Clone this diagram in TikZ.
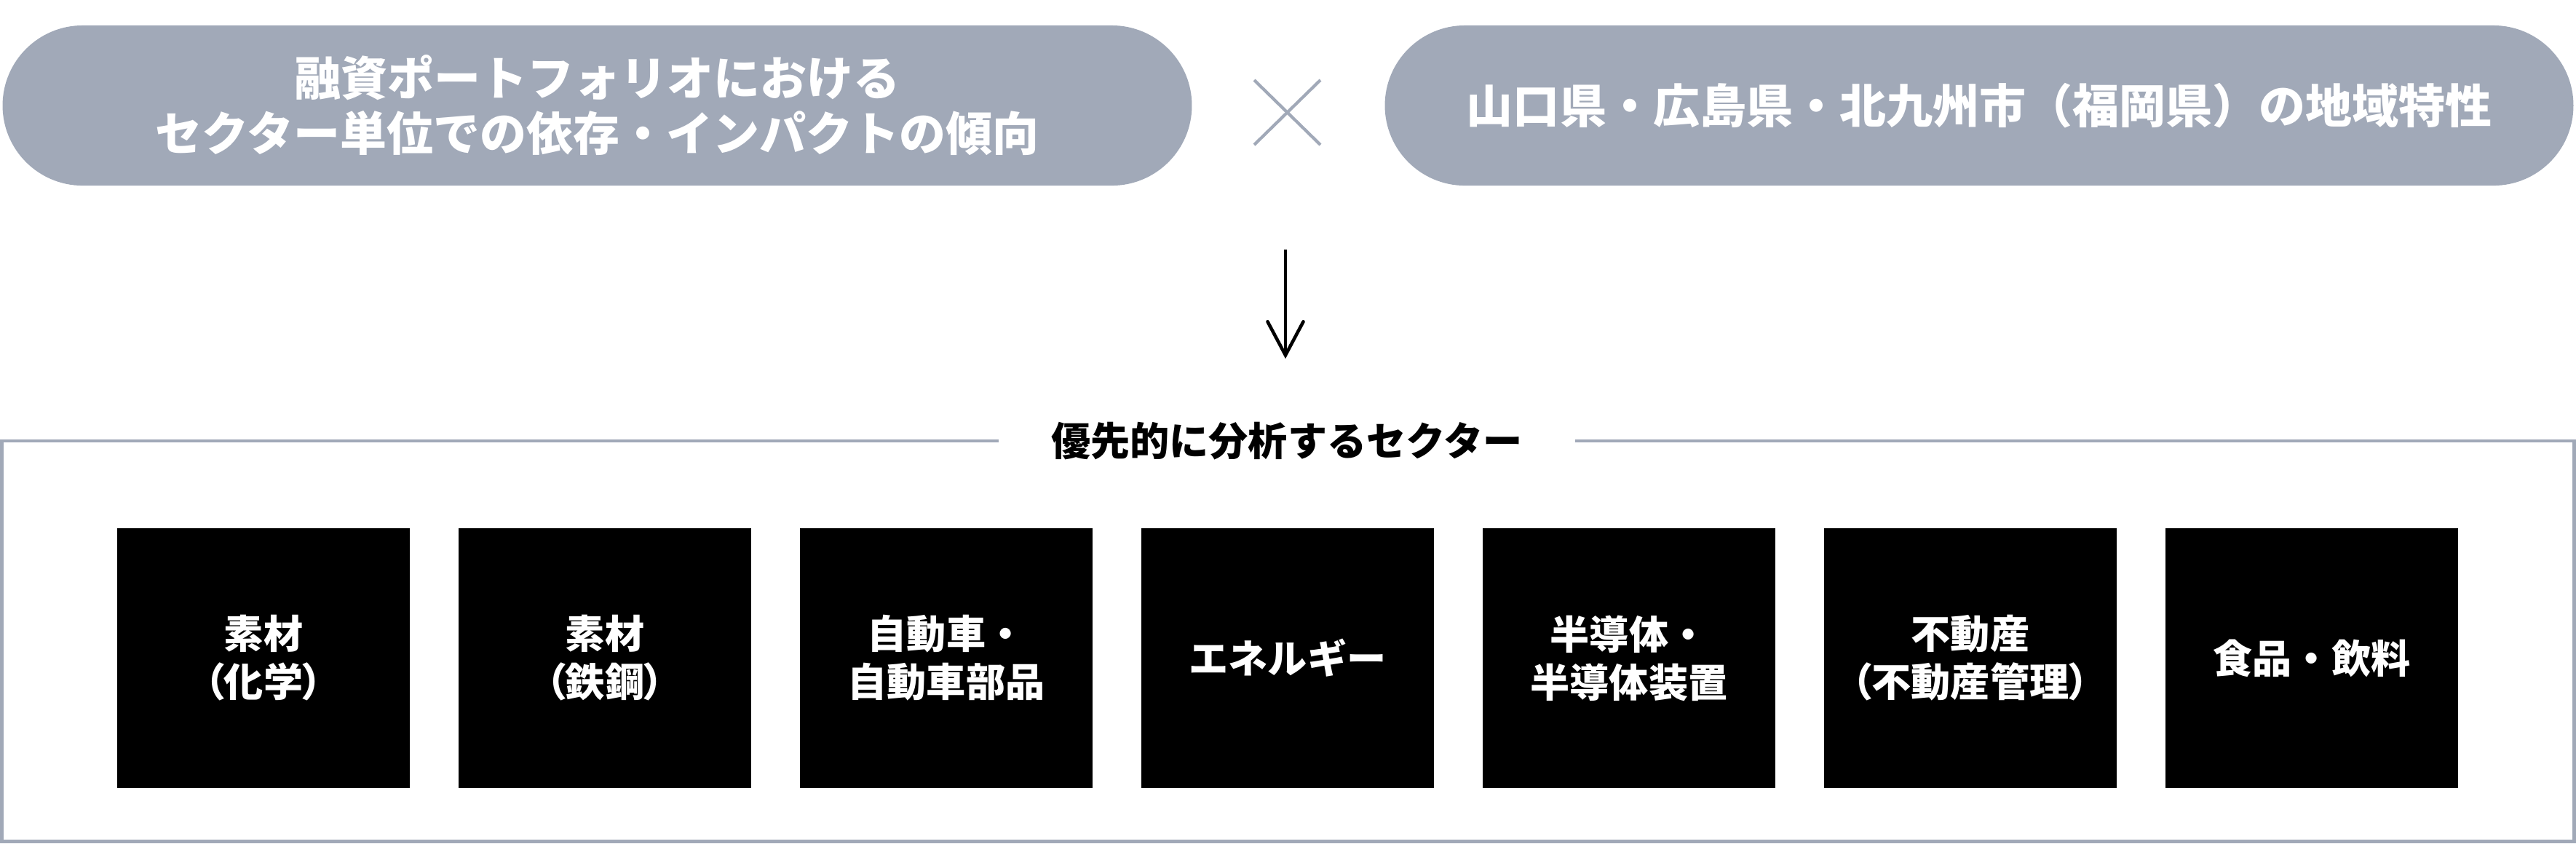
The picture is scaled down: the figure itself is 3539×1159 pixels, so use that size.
\documentclass[tikz,border=0pt]{standalone}
\usepackage{fontspec}
\setmainfont{Noto Sans CJK JP}
\usetikzlibrary{arrows.meta}
\definecolor{pillgray}{RGB}{161,169,184}
\newcommand{\myLP}{{\addfontfeatures{RawFeature=+palt}（}}
\newcommand{\myRP}{{\addfontfeatures{RawFeature=+palt}）}}
\tikzset{
  pill/.style={fill=pillgray, rounded corners=1.1cm, minimum height=2.2cm, text=white,
    align=center, font=\fontsize{18.2pt}{21.6pt}\selectfont\bfseries, inner sep=0pt},
  sector/.style={fill=black, minimum width=4.02cm, minimum height=3.57cm, text=white,
    align=center, font=\fontsize{15.4pt}{18.8pt}\selectfont\bfseries, inner sep=0pt},
  crossline/.style={draw=pillgray, line width=1.2pt},
  frameline/.style={draw=pillgray, line width=1.35pt},
  flowarrow/.style={draw=black, line width=1.3pt, -{Straight Barb[length=4.6mm,width=4.9mm,line cap=round]}},
  titlebox/.style={fill=white, inner xsep=0.72cm, inner ysep=0pt, font=\fontsize{15.4pt}{18.8pt}\selectfont\bfseries}
}
\begin{document}
\begin{tikzpicture}[x=0.01cm,y=-0.01cm]
\useasboundingbox (0,0) rectangle (3539,1159);
% top pills
\node[pill, minimum width=16.33cm] (p1) at (820.5,145) {融資ポートフォリオにおける\\セクター単位での依存・インパクトの傾向};
\node[pill, minimum width=16.32cm] (p2) at (2719,145) {山口県・広島県・北九州市（福岡県）の地域特性};
% cross
\coordinate (xa) at (1723,110);
\coordinate (xb) at (1814,199);
\coordinate (xc) at (1814,110);
\coordinate (xd) at (1723,199);
\draw[crossline] (xa) -- (xb);
\draw[crossline] (xc) -- (xd);
% arrow
\coordinate (ar1) at (1766,343);
\coordinate (ar2) at (1766,493);
\draw[flowarrow] (ar1) -- (ar2);
% frame
\coordinate (f1) at (2.5,606);
\coordinate (f2) at (3536.5,1156.5);
\draw[frameline] (f1) rectangle (f2);
\node[titlebox] (title) at (1768,606) {優先的に分析するセクター};
% sectors
\node[sector] (s1) at (362,904.5) {素材\\\myLP 化学\myRP};
\node[sector] (s2) at (831,904.5) {素材\\\myLP 鉄鋼\myRP};
\node[sector] (s3) at (1300,904.5) {自動車・\\自動車部品};
\node[sector] (s4) at (1769,904.5) {エネルギー};
\node[sector] (s5) at (2238,904.5) {半導体・\\半導体装置};
\node[sector] (s6) at (2707,904.5) {不動産\\\myLP 不動産管理\myRP};
\node[sector] (s7) at (3176,904.5) {食品・飲料};
\end{tikzpicture}
\end{document}
